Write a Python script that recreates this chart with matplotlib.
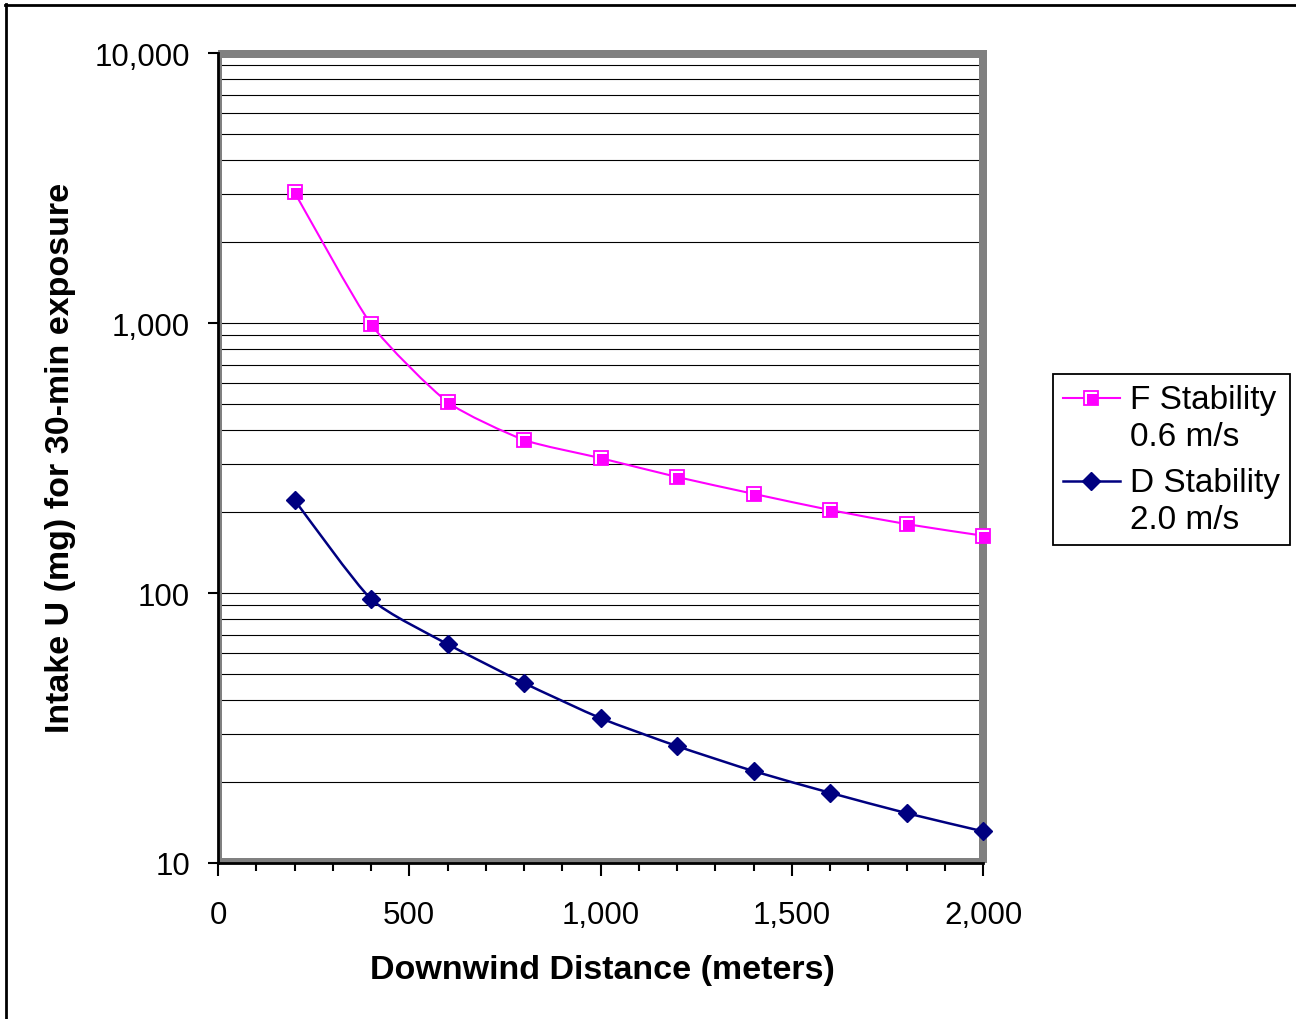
"""Intake U vs downwind distance, two stability classes (log y)."""
import numpy as np
import matplotlib
matplotlib.use("Agg")
import matplotlib.pyplot as plt  # noqa: E402
from matplotlib.path import Path  # noqa: E402
from matplotlib.patches import PathPatch, Rectangle  # noqa: E402
from matplotlib.lines import Line2D  # noqa: E402
from matplotlib.transforms import Affine2D  # noqa: E402
from matplotlib.legend_handler import HandlerBase, HandlerLine2D, HandlerTuple  # noqa: E402
from matplotlib.ticker import FixedLocator, MultipleLocator, FuncFormatter  # noqa: E402

plt.rcParams["font.family"] = ["Liberation Sans", "DejaVu Sans"]

distance = [200, 400, 600, 800, 1000, 1200, 1400, 1600, 1800, 2000]
f_stability = [3050, 990, 510, 369, 316, 269, 233, 203, 180, 163]
d_stability = [221, 95, 64.7, 46.4, 34.4, 27.1, 21.9, 18.2, 15.3, 13.1]
series_labels = ["F Stability\n0.6 m/s", "D Stability\n2.0 m/s"]
x_ticks = [0, 500, 1000, 1500, 2000]
y_ticks = [10, 100, 1000, 10000]

W, H = 1296, 1020
AX_L, AX_R, AX_T, AX_B = 218, 983, 54, 864   # plot box in pixels
MAGENTA, NAVY, WALL = "#FF00FF", "#000080", "#808080"
TENSION = 1 / 10

# inner fill of the square marker, pushed to the lower right
INNER_SQ = Path([(-0.3, -0.5), (0.5, -0.5), (0.5, 0.3), (-0.3, 0.3), (-0.3, -0.5)],
                [Path.MOVETO, Path.LINETO, Path.LINETO, Path.LINETO, Path.CLOSEPOLY])


def smooth_path(xs, ys):
    # Excel-ish smoothed line: cubic bezier through each point (log-y space)
    x = np.asarray(xs, float)
    ly = np.log10(np.asarray(ys, float))
    n = len(x)
    verts, codes = [(x[0], ly[0])], [Path.MOVETO]
    for i in range(n - 1):
        i0, i3 = max(i - 1, 0), min(i + 2, n - 1)
        c1 = (x[i] + (x[i + 1] - x[i0]) * TENSION, ly[i] + (ly[i + 1] - ly[i0]) * TENSION)
        c2 = (x[i + 1] - (x[i3] - x[i]) * TENSION, ly[i + 1] - (ly[i3] - ly[i]) * TENSION)
        verts += [c1, c2, (x[i + 1], ly[i + 1])]
        codes += [Path.CURVE4] * 3
    v = np.array(verts)
    v[:, 1] = 10 ** v[:, 1]
    return Path(v, codes)


def wall(ax, x0, y0, x1, y1):
    # grey "3D" wall band, given in figure pixels
    w, h = AX_R - AX_L, AX_B - AX_T
    ax.add_patch(Rectangle(((x0 - AX_L) / w, (AX_B - y1) / h), (x1 - x0) / w, (y1 - y0) / h,
                           transform=ax.transAxes, facecolor=WALL, lw=0,
                           clip_on=False, zorder=1.5))


class FirstLine(HandlerBase):
    """Put the legend handle level with the first line of a 2-line label."""

    def __init__(self, base, shift=0.6):
        super().__init__()
        self.base, self.shift = base, shift

    def create_artists(self, legend, orig_handle, xdescent, ydescent, width, height,
                       fontsize, trans):
        trans = Affine2D().translate(0, self.shift * fontsize) + trans
        return self.base.create_artists(legend, orig_handle, xdescent, ydescent,
                                        width, height, fontsize, trans)


fig = plt.figure(figsize=(W / 100, H / 100), dpi=100)
ax = fig.add_axes([AX_L / W, 1 - AX_B / H, (AX_R - AX_L) / W, (AX_B - AX_T) / H])
ax.set_yscale("log")
ax.set_xlim(0, 2000); ax.set_ylim(10, 10000)

ax.set_axisbelow(True)
ax.yaxis.grid(True, which="both", color="black", lw=0.8)
for x0, y0, x1, y1 in [(218, 51, 987, 59), (979, 51, 987, 864),
                       (218, 51, 222, 864), (218, 859, 987, 864)]:
    wall(ax, x0, y0, x1, y1)

for s in ("top", "right"):
    ax.spines[s].set_visible(False)
for s in ("left", "bottom"):
    ax.spines[s].set_linewidth(2.0)
    ax.spines[s].set_zorder(2.5)

ax.xaxis.set_major_locator(FixedLocator(x_ticks))
ax.xaxis.set_minor_locator(MultipleLocator(100))
ax.yaxis.set_major_locator(FixedLocator(y_ticks))
fmt = FuncFormatter(lambda v, p: f"{v:,.0f}")
ax.xaxis.set_major_formatter(fmt); ax.yaxis.set_major_formatter(fmt)
ax.yaxis.set_minor_formatter(FuncFormatter(lambda v, p: ""))
ax.tick_params(axis="y", which="major", direction="out", length=7, width=1.5,
               pad=13, labelsize=22.5)
ax.tick_params(axis="y", which="minor", length=0)
ax.tick_params(axis="x", which="major", direction="out", length=9, width=1.5,
               pad=18, labelsize=22.5)
ax.tick_params(axis="x", which="minor", direction="out", length=5.5, width=1.5)

# smoothed curves + markers
ax.add_patch(PathPatch(smooth_path(distance, f_stability), fill=False,
                       edgecolor=MAGENTA, lw=1.5, zorder=3, clip_on=False))
ax.add_patch(PathPatch(smooth_path(distance, d_stability), fill=False,
                       edgecolor=NAVY, lw=1.8, zorder=3, clip_on=False))
sq_style = dict(ls="none", marker="s", ms=9.5, mfc="white", mec=MAGENTA, mew=1.3)
sq_fill = dict(ls="none", marker=INNER_SQ, ms=9.5, mfc=MAGENTA, mec=MAGENTA, mew=0)
dia_style = dict(marker="D", ms=9, mfc=NAVY, mec=NAVY)
ax.plot(distance, f_stability, zorder=4, clip_on=False, **sq_style)
ax.plot(distance, f_stability, zorder=5, clip_on=False, **sq_fill)
ax.plot(distance, d_stability, ls="none", zorder=4, clip_on=False, **dia_style)

ax.set_xlabel("Downwind Distance (meters)", fontsize=24.5, fontweight="bold")
ax.xaxis.set_label_coords(0.502, -0.131)
ax.xaxis.label.set_va("center")
ax.set_ylabel("Intake U (mg) for 30-min exposure", fontsize=24.5, fontweight="bold")
ax.yaxis.set_label_coords(-0.206, 0.501)
ax.yaxis.label.set_va("center")

# legend
h_f = (Line2D([], [], color=MAGENTA, lw=1.5, **sq_style | {"ls": "-"}),
       Line2D([], [], **sq_fill))
h_d = Line2D([], [], color=NAVY, lw=1.8, **dia_style)
leg = fig.legend([h_f, h_d], series_labels, loc="upper left",
                 bbox_to_anchor=(1053 / W, 1 - 375 / H), borderaxespad=0,
                 fontsize=24, frameon=True, fancybox=False, edgecolor="black",
                 framealpha=1, handlelength=1.7, handletextpad=0.3,
                 labelspacing=0.45, borderpad=0.3,
                 handler_map={h_f: FirstLine(HandlerTuple()),
                              h_d: FirstLine(HandlerLine2D())})
leg.get_frame().set_linewidth(1.3)
for t in leg.get_texts():
    t.set_linespacing(1.25)

# outer chart border (only top/left fall inside the image)
fig.add_artist(Line2D([5 / W, 1], [1 - 6 / H, 1 - 6 / H], color="black", lw=2,
                      transform=fig.transFigure))
fig.add_artist(Line2D([6 / W, 6 / W], [0, 1 - 5 / H], color="black", lw=2,
                      transform=fig.transFigure))

fig.savefig("out.png", dpi=100)
